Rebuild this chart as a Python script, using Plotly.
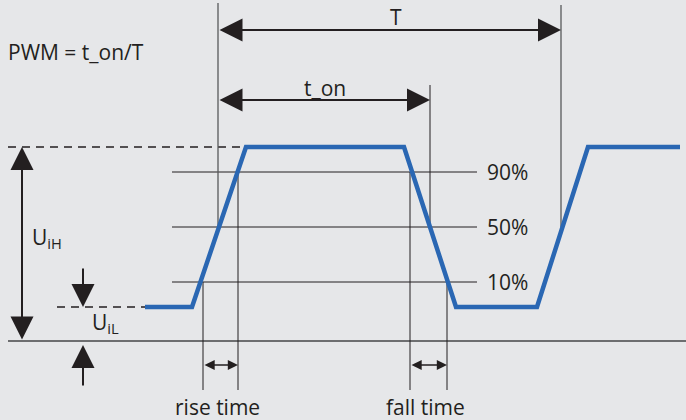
import plotly.graph_objects as go

# ---- data (diagram units: x = time, y = voltage, baseline 0) ----
wave_t = [145, 192, 246, 404, 456, 537, 588, 680]
wave_v = [34, 34, 194, 194, 34, 34, 194, 194]

U_low = 34
U_high = 194
level_names = ["90%", "50%", "10%"]
level_values = [169, 114, 59]
level_x = [172, 477]

# edge crossing times
t_rise10, t_rise50, t_rise90 = 203, 218, 238
t_fall90, t_fall50, t_fall10 = 410, 430, 447
t_rise50_2 = 561

BG = "#e6e7e9"
INK = "#231f20"
BLUE = "#2a67b3"
FONT = "Open Sans, Noto Sans, DejaVu Sans, sans-serif"
FS = 21

fig = go.Figure()

shapes = []
def line(x0, y0, x1, y1, color=INK, width=1, dash="solid"):
    shapes.append(dict(type="line", xref="x", yref="y", x0=x0, y0=y0, x1=x1, y1=y1,
                       line=dict(color=color, width=width, dash=dash), layer="below"))

# baseline
line(8, 0, 686, 0, color="#6d6e70", width=2)
# dashed reference levels
line(8, U_high, 245, U_high, dash="8px,6px", width=1.3)
line(57, U_low, 145, U_low, dash="8px,6px", width=1.3)
# percentage level lines
for v in level_values:
    line(level_x[0], v, level_x[1], v)
# vertical guide lines
line(t_rise50, 338, t_rise50, level_values[1], color="#58595b", width=1.3)
line(t_rise50_2, 336, t_rise50_2, level_values[1], color="#58595b", width=1.3)
line(t_fall50, 256, t_fall50, level_values[1])
line(t_rise90, level_values[0], t_rise90, -49)
line(t_rise10, level_values[2], t_rise10, -49)
line(t_fall90, level_values[0], t_fall90, -49)
line(t_fall10, level_values[2], t_fall10, -49)

# waveform
fig.add_trace(go.Scatter(x=wave_t, y=wave_v, mode="lines",
                         line=dict(color=BLUE, width=4.5), hoverinfo="skip"))

annotations = []
def arrow(x0, y0, x1, y1, both=True, size=2.3, width=2):
    annotations.append(dict(x=x1, y=y1, ax=x0, ay=y0, xref="x", yref="y",
                            axref="x", ayref="y", text="", showarrow=True,
                            arrowhead=2, arrowsize=size, arrowwidth=width,
                            arrowcolor=INK,
                            arrowside="end+start" if both else "end"))

def label(x, y, txt, xanchor="center", size=FS):
    annotations.append(dict(x=x, y=y, xref="x", yref="y", text=txt, showarrow=False,
                            xanchor=xanchor, yanchor="middle",
                            font=dict(family=FONT, size=size, color=INK)))

arrow(t_rise50, 311, t_rise50_2, 311)
arrow(t_rise50, 241, t_fall50, 241)
arrow(t_rise10, -24, t_rise90, -24, size=1.2, width=1.7)
arrow(t_fall90, -24, t_fall10, -24, size=1.2, width=1.7)
arrow(22, 0, 22, U_high)
arrow(83, 74, 83, U_low, both=False)
arrow(83, -46, 83, -4, both=False)

label(396, 324, "T")
label(325, 253, "t_on")
label(6, 289, "PWM = t_on/T", xanchor="left")
label(30, 103, "U<sub>iH</sub>", xanchor="left")
label(90, 18, "U<sub>iL</sub>", xanchor="left")
label(217, -66, "rise time")
label(425, -66, "fall time")
for name, v in zip(level_names, level_values):
    label(485, v, name, xanchor="left")

fig.update_layout(
    width=686, height=420,
    margin=dict(l=0, r=0, t=0, b=0),
    paper_bgcolor=BG, plot_bgcolor=BG,
    showlegend=False,
    shapes=shapes, annotations=annotations,
    xaxis=dict(range=[0, 686], visible=False, fixedrange=True),
    yaxis=dict(range=[-79, 341], visible=False, fixedrange=True),
)

fig.write_html("out.html", config={"displayModeBar": False},
               post_script="document.body.style.margin='0';document.body.style.overflow='hidden';")
